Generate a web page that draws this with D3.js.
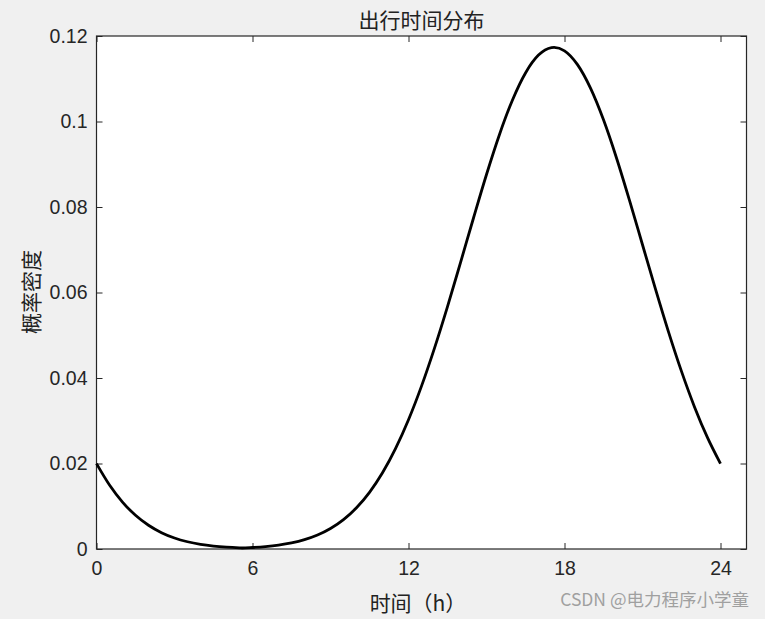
<!DOCTYPE html>
<html><head><meta charset="utf-8">
<script src="https://cdn.jsdelivr.net/npm/d3@7"></script>
<style>
html,body{margin:0;padding:0;background:#f0f0f0;}
svg{display:block;}
</style></head>
<body>
<script>
// Data (hours, probability density)
const hours = [0,0.5,1,1.5,2,2.5,3,3.5,4,4.5,5,5.5,5.6,6,6.5,7,7.5,8,8.5,9,9.5,10,10.5,11,11.5,12,12.5,13,13.5,14,14.5,15,15.5,16,16.5,17,17.5,17.6,18,18.5,19,19.5,20,20.5,21,21.5,22,22.5,23,23.5,24];
const density = [0.01996,0.01496,0.01098,0.00789,0.00555,0.003816,0.002569,0.001693,0.001091,0.000689,0.000425,0.000257,0.000231,0.000349,0.000569,0.000910,0.001423,0.002179,0.003265,0.004789,0.006871,0.009649,0.01326,0.01783,0.02347,0.03023,0.03810,0.04699,0.05671,0.06699,0.07743,0.08760,0.09697,0.10504,0.11136,0.11553,0.11729,0.11734,0.11653,0.11330,0.10780,0.10039,0.09147,0.08155,0.07117,0.06078,0.05079,0.04154,0.03324,0.02604,0.01996];
const xTicks = [0,6,12,18,24];
const yTicks = [0,0.02,0.04,0.06,0.08,0.1,0.12];
const yTickLabels = ["0","0.02","0.04","0.06","0.08","0.1","0.12"];
const title = "出行时间分布";
const xLabel = "时间（h）";
const yLabel = "概率密度";
const watermark = "CSDN @电力程序小学童";

const W = 765, H = 619;
const m = {left: 96.5, right: 765-746.5, top: 36, bottom: 619-549};
const svg = d3.select("body").append("svg").attr("width", W).attr("height", H);
const iw = W - m.left - m.right, ih = H - m.top - m.bottom;

const x = d3.scaleLinear().domain([0,25]).range([m.left, m.left+iw]);
const y = d3.scaleLinear().domain([0,0.12]).range([m.top+ih, m.top]);

svg.append("rect").attr("x", m.left).attr("y", m.top).attr("width", iw).attr("height", ih).attr("fill", "#fff");

const axColor = "#262626";
const tickFont = "Liberation Sans, Arial, sans-serif";
const cjk = "'Noto Sans CJK SC', sans-serif";
const tl = 6;

function styleAxis(g){
  g.select(".domain").remove();
  g.selectAll(".tick line").attr("stroke", axColor).attr("stroke-width", 1);
  g.selectAll(".tick text").attr("fill", axColor).style("font-family", tickFont).style("font-size", "19.5px");
}

// bottom
svg.append("g").attr("transform", `translate(0,${m.top+ih})`)
  .call(d3.axisBottom(x).tickValues(xTicks).tickSize(-tl).tickPadding(12).tickFormat(d3.format("d")))
  .call(styleAxis);
// top
svg.append("g").attr("transform", `translate(0,${m.top})`)
  .call(d3.axisTop(x).tickValues(xTicks).tickSize(-tl).tickFormat(""))
  .call(styleAxis);
// left
svg.append("g").attr("transform", `translate(${m.left},0)`)
  .call(d3.axisLeft(y).tickValues(yTicks).tickSize(-tl).tickPadding(9).tickFormat((d,i)=>yTickLabels[i]))
  .call(styleAxis);
// right
svg.append("g").attr("transform", `translate(${m.left+iw},0)`)
  .call(d3.axisRight(y).tickValues(yTicks).tickSize(-tl).tickFormat(""))
  .call(styleAxis);

// box
svg.append("rect").attr("x", m.left).attr("y", m.top).attr("width", iw).attr("height", ih)
  .attr("fill", "none").attr("stroke", axColor).attr("stroke-width", 1.2);

// curve
const pts = hours.map((h,i)=>[h, density[i]]);
svg.append("path").datum(pts)
  .attr("fill", "none").attr("stroke", "#000").attr("stroke-width", 2.8)
  .attr("stroke-linejoin", "round")
  .attr("d", d3.line().x(d=>x(d[0])).y(d=>y(d[1])).curve(d3.curveMonotoneX));

// title
svg.append("text").attr("x", m.left+iw/2).attr("y", 28).attr("text-anchor", "middle")
  .style("font-family", cjk).style("font-size", "21px").attr("fill", "#222").text(title);
// x label
svg.append("text").attr("x", 418).attr("y", 611).attr("text-anchor", "middle")
  .style("font-family", cjk).style("font-size", "21px").attr("fill", "#222").text(xLabel);
// y label
svg.append("text").attr("transform", `translate(39,292) rotate(-90)`).attr("text-anchor", "middle")
  .style("font-family", cjk).style("font-size", "21px").attr("fill", "#222").text(yLabel);
// watermark
svg.append("text").attr("x", 749).attr("y", 606).attr("text-anchor", "end")
  .style("font-family", cjk).style("font-size", "17.5px").attr("fill", "#a0a0a0").text(watermark);
</script>
</body></html>
